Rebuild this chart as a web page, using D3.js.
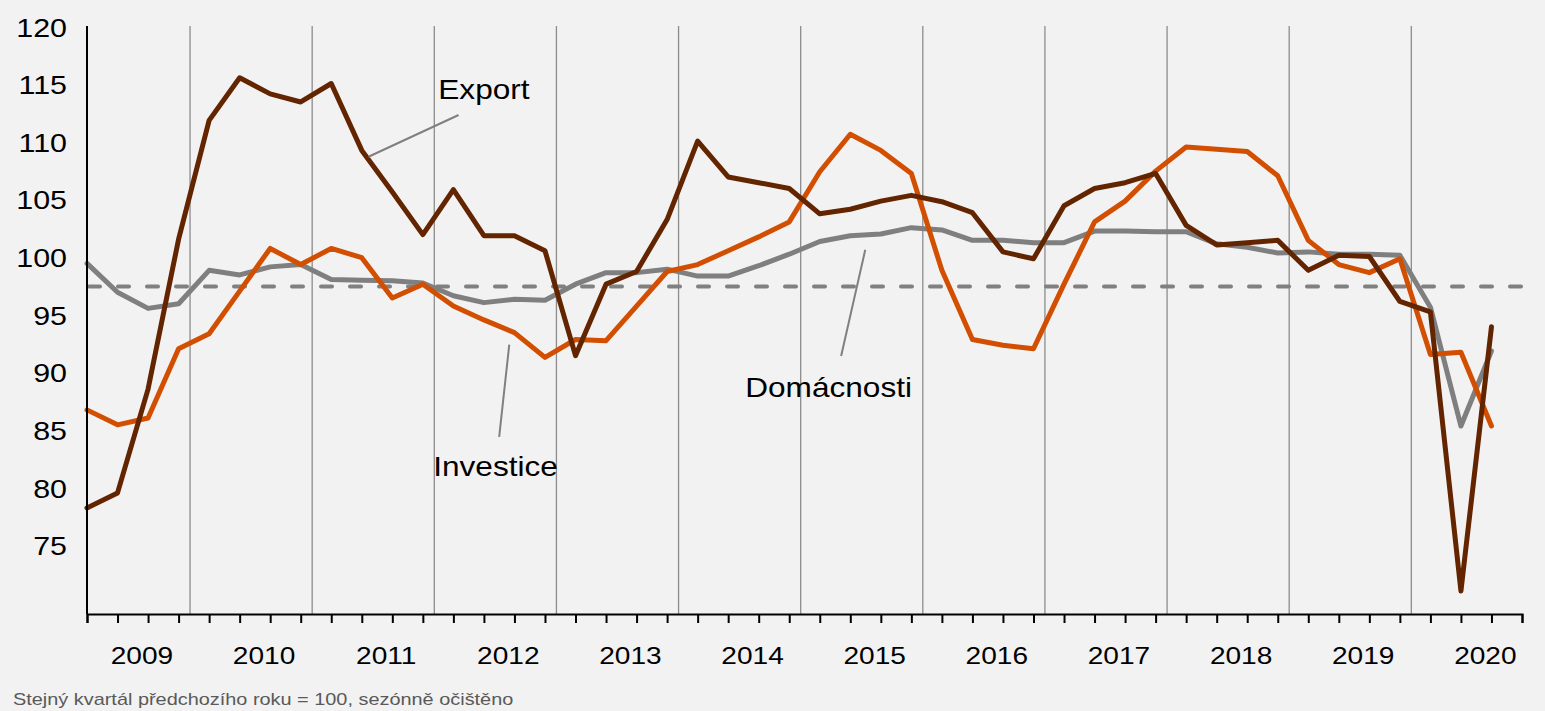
<!DOCTYPE html>
<html>
<head>
<meta charset="utf-8">
<script src="https://cdn.jsdelivr.net/npm/d3@7"></script>
<style>
  html, body { margin: 0; padding: 0; background: #f2f2f2; }
  svg { display: block; }
  text { font-family: "Liberation Sans", Arial, sans-serif; }
</style>
</head>
<body>
<svg id="chart" width="1545" height="711"></svg>
<script>
// ---- data ----
const years = [2009, 2010, 2011, 2012, 2013, 2014, 2015, 2016, 2017, 2018, 2019, 2020];
const quartersInLastYear = 3;
const yTicks = [75, 80, 85, 90, 95, 100, 105, 110, 115, 120];
const referenceLevel = 97.5;

const exportValues = [
  78.3, 79.6, 88.6, 101.6, 111.9, 115.6, 114.2, 113.5, 115.1, 109.3,
  105.7, 102.0, 105.9, 101.9, 101.9, 100.6, 91.5, 97.7, 98.8, 103.3,
  110.1, 107.0, 106.5, 106.0, 103.8, 104.2, 104.9, 105.4, 104.85, 103.9,
  100.5, 99.9, 104.5, 106.0, 106.5, 107.3, 102.8, 101.1, 101.3, 101.5,
  98.9, 100.2, 100.1, 96.2, 95.3, 71.1, 94.0
];
const investiceValues = [
  86.8, 85.5, 86.1, 92.1, 93.4, 97.1, 100.8, 99.4, 100.8, 100.0,
  96.5, 97.7, 95.8, 94.6, 93.5, 91.35, 92.9, 92.8, 95.8, 98.8,
  99.4, 100.6, 101.8, 103.1, 107.45, 110.7, 109.3, 107.3, 98.9, 92.9,
  92.4, 92.1, 97.7, 103.1, 104.9, 107.5, 109.6, 109.4, 109.2, 107.1,
  101.5, 99.4, 98.7, 99.9, 91.6, 91.8, 85.4
];
const domacnostiValues = [
  99.5, 97.0, 95.6, 96.0, 98.9, 98.5, 99.2, 99.4, 98.1, 98.05,
  98.0, 97.8, 96.7, 96.1, 96.4, 96.3, 97.7, 98.7, 98.7, 99.0,
  98.4, 98.4, 99.3, 100.3, 101.4, 101.9, 102.05, 102.6, 102.4, 101.5,
  101.5, 101.3, 101.3, 102.3, 102.3, 102.25, 102.25, 101.2, 100.9, 100.4,
  100.5, 100.3, 100.3, 100.2, 95.7, 85.4, 91.9
];

// annotation labels: text, text anchor (quarter index, value), pointer from/to (quarter index, value)
const annotations = [
  { text: "Export",     tx: 13.0,  ty: 113.76, p1: [12.17, 112.37], p2: [9.22, 108.75] },
  { text: "Investice",  tx: 13.38, ty: 81.06,  p1: [13.83, 92.45],  p2: [13.5, 84.45] },
  { text: "Domácnosti", tx: 24.29, ty: 87.88,  p1: [25.49, 100.68], p2: [24.7, 91.47] }
];
const footnote = "Stejný kvartál předchozího roku = 100, sezónně očištěno";

// ---- build category list ----
const quarters = [];
years.forEach((yr, yi) => {
  const n = yi === years.length - 1 ? quartersInLastYear : 4;
  for (let q = 1; q <= n; q++) quarters.push(yr + "Q" + q);
});

const series = [
  { name: "Domácnosti", values: domacnostiValues, color: "#7f7f7f" },
  { name: "Investice",  values: investiceValues,  color: "#d24e00" },
  { name: "Export",     values: exportValues,     color: "#632400" }
];

// ---- layout ----
const svg = d3.select("#chart");
const mLeft = 87, mRight = 1522, mTop = 27, mBottom = 614;
const textStretch = 1.17;

const x = d3.scaleLinear().domain([0, quarters.length]).range([mLeft, mRight]);
const y = d3.scaleLinear().domain([69.1, 120]).range([mBottom, mTop]);

svg.append("rect").attr("width", 1545).attr("height", 711).attr("fill", "#f2f2f2");

// year separators
const sepOffset = 3.375;
svg.append("g").selectAll("line")
  .data(years.slice(0, -1))
  .join("line")
  .attr("x1", (d, i) => x(sepOffset + 4 * i))
  .attr("x2", (d, i) => x(sepOffset + 4 * i))
  .attr("y1", 26).attr("y2", mBottom)
  .attr("stroke", "#8c8c8c").attr("stroke-width", 1.3);

// reference dashed line
svg.append("line")
  .attr("x1", x(0)).attr("x2", mRight)
  .attr("y1", y(referenceLevel)).attr("y2", y(referenceLevel))
  .attr("stroke", "#808080").attr("stroke-width", 4)
  .attr("stroke-linecap", "round")
  .attr("stroke-dasharray", "11 18")
  .attr("transform", "translate(2,0)");

// series lines
const line = d3.line().x((d, i) => x(i)).y(d => y(d));
svg.append("g").selectAll("path")
  .data(series)
  .join("path")
  .attr("d", d => line(d.values))
  .attr("fill", "none")
  .attr("stroke", d => d.color)
  .attr("stroke-width", 5)
  .attr("stroke-linejoin", "round")
  .attr("stroke-linecap", "round");

// axes
svg.append("line").attr("x1", mLeft).attr("x2", mLeft).attr("y1", 26).attr("y2", mBottom)
  .attr("stroke", "#000").attr("stroke-width", 2);
const xAxis = d3.axisBottom(x)
  .tickValues(d3.range(0, quarters.length + 1))
  .tickSize(9).tickFormat("");
const gx = svg.append("g").attr("transform", `translate(0,${mBottom})`).call(xAxis);
gx.select(".domain").attr("stroke", "#000").attr("stroke-width", 2);
gx.selectAll(".tick line").attr("stroke", "#000").attr("stroke-width", 2);

// y labels
svg.append("g").selectAll("text")
  .data(yTicks)
  .join("text")
  .attr("transform", d => `translate(67,${y(d) + 9.5}) scale(${textStretch},1)`)
  .attr("text-anchor", "end")
  .attr("font-size", 26)
  .attr("fill", "#000")
  .text(d => d);

// year labels
svg.append("g").selectAll("text")
  .data(years)
  .join("text")
  .attr("transform", (d, i) => `translate(${x(1.8 + 4 * i)},664) scale(${textStretch},1)`)
  .attr("text-anchor", "middle")
  .attr("font-size", 24)
  .attr("fill", "#000")
  .text(d => d);

// annotations
const ann = svg.append("g");
ann.selectAll("line")
  .data(annotations)
  .join("line")
  .attr("x1", d => x(d.p1[0])).attr("y1", d => y(d.p1[1]))
  .attr("x2", d => x(d.p2[0])).attr("y2", d => y(d.p2[1]))
  .attr("stroke", "#808080").attr("stroke-width", 2);
ann.selectAll("text")
  .data(annotations)
  .join("text")
  .attr("transform", d => `translate(${x(d.tx)},${y(d.ty)}) scale(${textStretch},1)`)
  .attr("text-anchor", "middle")
  .attr("font-size", 27)
  .attr("fill", "#000")
  .text(d => d.text);

// footnote
svg.append("text")
  .attr("transform", `translate(13,705) scale(${textStretch},1)`)
  .attr("font-size", 17)
  .attr("fill", "#595959")
  .text(footnote);
</script>
</body>
</html>
